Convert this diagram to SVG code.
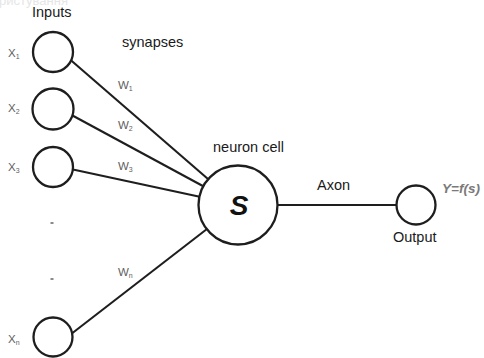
<svg xmlns="http://www.w3.org/2000/svg" width="484" height="358" viewBox="0 0 484 358">
  <style>
    .node { fill: #ffffff; stroke: #1e1e1e; stroke-width: 2.3; }
    .wire { stroke: #1e1e1e; stroke-width: 2.1; fill: none; }
    .lbl { font-family: "Liberation Sans", Arial, sans-serif; font-size: 14.5px; fill: #1a1a1a; }
    .var { font-family: "Liberation Sans", Arial, sans-serif; font-size: 11.5px; fill: #5e5e5e; }
    .sub { font-size: 7px; }
    .mark { font-family: "Liberation Sans", Arial, sans-serif; font-size: 13px; fill: #e6e6e6; }
  </style>
  <rect width="484" height="358" fill="#ffffff"/>

  <!-- faint header text, clipped at the top edge -->
  <text class="mark" x="-1" y="5">ристування</text>

  <!-- connectors: synapses into the cell body, and the axon -->
  <g id="connectors">
    <line class="wire" x1="66" y1="56" x2="238" y2="205"/>
    <line class="wire" x1="66" y1="112" x2="238" y2="205"/>
    <line class="wire" x1="66" y1="168" x2="238" y2="205"/>
    <line class="wire" x1="66" y1="338" x2="238" y2="205"/>
    <line class="wire" x1="277" y1="205" x2="397" y2="205"/>
  </g>

  <!-- input nodes -->
  <g id="input-1">
    <circle class="node" cx="53" cy="52" r="20"/>
    <text class="var" x="8" y="57">X<tspan class="sub" dy="2">1</tspan></text>
  </g>
  <g id="input-2">
    <circle class="node" cx="53" cy="109" r="20.5"/>
    <text class="var" x="8" y="112">X<tspan class="sub" dy="2">2</tspan></text>
  </g>
  <g id="input-3">
    <circle class="node" cx="53" cy="167" r="20"/>
    <text class="var" x="8" y="171">X<tspan class="sub" dy="2">3</tspan></text>
  </g>
  <g id="input-n">
    <circle class="node" cx="53" cy="337" r="19.5"/>
    <text class="var" x="8" y="343">X<tspan class="sub" dy="2">n</tspan></text>
  </g>

  <!-- ellipsis between inputs -->
  <g id="ellipsis" fill="#8a8a8a">
    <rect x="50.5" y="222" width="3" height="2"/>
    <rect x="50.5" y="278" width="3" height="2"/>
  </g>

  <!-- synapse weights -->
  <g id="weights">
    <text class="var" x="118" y="89">W<tspan class="sub" dy="2">1</tspan></text>
    <text class="var" x="118" y="129">W<tspan class="sub" dy="2">2</tspan></text>
    <text class="var" x="118" y="170">W<tspan class="sub" dy="2">3</tspan></text>
    <text class="var" x="118" y="276">W<tspan class="sub" dy="2">n</tspan></text>
  </g>

  <!-- neuron cell body -->
  <g id="neuron">
    <circle class="node" cx="238" cy="205" r="39.5"/>
    <text x="239" y="215" text-anchor="middle" font-family="Liberation Sans, Arial, sans-serif" font-size="28" font-weight="bold" font-style="italic" fill="#111">S</text>
  </g>

  <!-- output node -->
  <g id="output">
    <circle class="node" cx="416" cy="205" r="19.5"/>
    <text class="lbl" x="393" y="242">Output</text>
    <text x="442" y="193" font-family="Liberation Sans, Arial, sans-serif" font-size="13.5" font-weight="bold" font-style="italic" fill="#7a7a7a">Y=f(s)</text>
  </g>

  <!-- captions -->
  <g id="captions">
    <text class="lbl" x="32" y="17">Inputs</text>
    <text class="lbl" x="122" y="47">synapses</text>
    <text class="lbl" x="213" y="152">neuron cell</text>
    <text class="lbl" x="317" y="190">Axon</text>
  </g>
</svg>
